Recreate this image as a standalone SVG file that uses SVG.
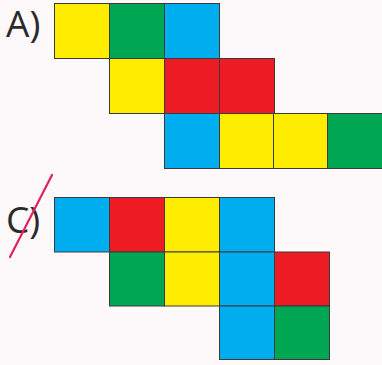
<svg xmlns="http://www.w3.org/2000/svg" width="382" height="365" viewBox="0 0 382 365">
<style>
rect.c{stroke:#3a3a3a;stroke-width:1}
.y{fill:#FFED00}.g{fill:#00A651}.b{fill:#00AEEF}.r{fill:#ED1C24}
text{font-family:"Open Sans","Liberation Sans",sans-serif;font-size:37px;fill:#2a2a2a}
</style>
<rect width="382" height="365" fill="#fdf8f9"/>
<g id="figA">
<rect class="c y" x="54.5" y="3.5" width="55" height="55"/>
<rect class="c g" x="109.5" y="3.5" width="55" height="55"/>
<rect class="c b" x="164.5" y="3.5" width="55" height="55"/>
<rect class="c y" x="109.5" y="58.5" width="55" height="55"/>
<rect class="c r" x="164.5" y="58.5" width="55" height="55"/>
<rect class="c r" x="219.5" y="58.5" width="55" height="55"/>
<rect class="c b" x="164.5" y="113.5" width="55" height="55"/>
<rect class="c y" x="219.5" y="113.5" width="54" height="55"/>
<rect class="c y" x="273.5" y="113.5" width="54" height="55"/>
<rect class="c g" x="327.5" y="113.5" width="55" height="55"/>
</g>
<g id="figC">
<rect class="c b" x="54.5" y="197.5" width="55" height="54.5"/>
<rect class="c r" x="109.5" y="197.5" width="55" height="54.5"/>
<rect class="c y" x="164.5" y="197.5" width="55" height="54.5"/>
<rect class="c b" x="219.5" y="197.5" width="55" height="54.5"/>
<rect class="c g" x="109.5" y="252" width="55" height="54"/>
<rect class="c y" x="164.5" y="252" width="55" height="54"/>
<rect class="c b" x="219.5" y="252" width="55" height="54"/>
<rect class="c r" x="274.5" y="252" width="55" height="54"/>
<rect class="c b" x="219.5" y="306" width="55" height="53.5"/>
<rect class="c g" x="274.5" y="306" width="55" height="53.5"/>
</g>
<g id="labels">
<text x="6" y="37">A)</text>
<text x="6" y="233">C)</text>
<line x1="52" y1="175" x2="10" y2="257" stroke="#e0245a" stroke-width="2.2" stroke-linecap="round"/>
</g>
</svg>
